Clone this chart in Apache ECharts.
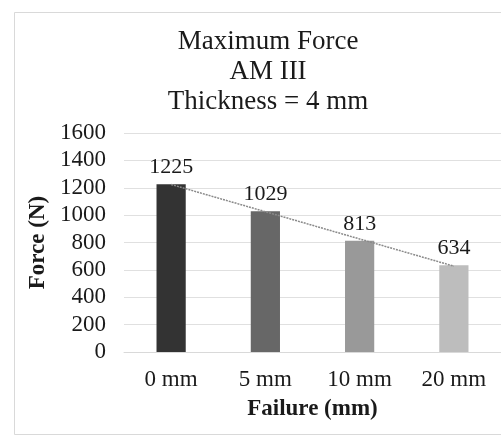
<!DOCTYPE html>
<html>
<head>
<meta charset="utf-8">
<script src="https://cdn.jsdelivr.net/npm/echarts@6/dist/echarts.min.js"></script>
<style>html,body{margin:0;padding:0;background:#fff}#c{width:501px;height:435px}</style>
</head>
<body>
<div id="c"></div>
<script>
var categories = ['0 mm', '5 mm', '10 mm', '20 mm'];
var forceValues = [1225, 1029, 813, 634];
var trendValues = [1224, 1025, 826, 627];
var barColors = ['#333333', '#676767', '#999999', '#bdbdbd'];
var yTicks = [0, 200, 400, 600, 800, 1000, 1200, 1400, 1600];

var FONT = '"Liberation Serif", "Times New Roman", serif';
var chart = echarts.init(document.getElementById('c'), null, {renderer: 'canvas'});
chart.setOption({
  animation: false,
  backgroundColor: '#fff',
  graphic: [{
    type: 'rect', left: 12, top: 10,
    shape: {width: 510, height: 422},
    style: {fill: 'none', stroke: '#d9d9d9', lineWidth: 1}
  }],
  title: {
    text: 'Maximum Force\nAM III\nThickness = 4 mm',
    left: 263, top: 22, textAlign: 'center',
    textStyle: {fontFamily: FONT, fontSize: 27, fontWeight: 'normal', color: '#1a1a1a', lineHeight: 30}
  },
  grid: {left: 124, right: -1, top: 133, bottom: 83, containLabel: false},
  xAxis: {
    type: 'category', data: categories,
    name: 'Failure (mm)', nameLocation: 'middle', nameGap: 46,
    nameTextStyle: {fontFamily: FONT, fontSize: 23, fontWeight: 'bold', color: '#1a1a1a'},
    axisLine: {lineStyle: {color: '#d9d9d9'}},
    axisTick: {show: false},
    axisLabel: {fontFamily: FONT, fontSize: 23, color: '#1a1a1a', margin: 16}
  },
  yAxis: {
    type: 'value', min: yTicks[0], max: yTicks[yTicks.length - 1], interval: 200,
    name: 'Force (N)', nameLocation: 'middle', nameGap: 71,
    nameTextStyle: {fontFamily: FONT, fontSize: 23, fontWeight: 'bold', color: '#1a1a1a'},
    axisLine: {show: false}, axisTick: {show: false},
    axisLabel: {fontFamily: FONT, fontSize: 23, color: '#1a1a1a', margin: 18,
      formatter: function (v) { return String(v); }},
    splitLine: {lineStyle: {color: '#e0e0e0'}}
  },
  series: [{
    type: 'bar', barWidth: '31%',
    data: forceValues.map(function (v, i) { return {value: v, itemStyle: {color: barColors[i]}}; }),
    label: {show: true, position: 'top', distance: 6, fontFamily: FONT, fontSize: 22, color: '#1a1a1a'}
  }, {
    type: 'line', data: trendValues, symbol: 'none', silent: true, z: 3,
    lineStyle: {color: '#8a8a8a', width: 1.5, type: [2, 1]}
  }]
});
</script>
</body>
</html>
